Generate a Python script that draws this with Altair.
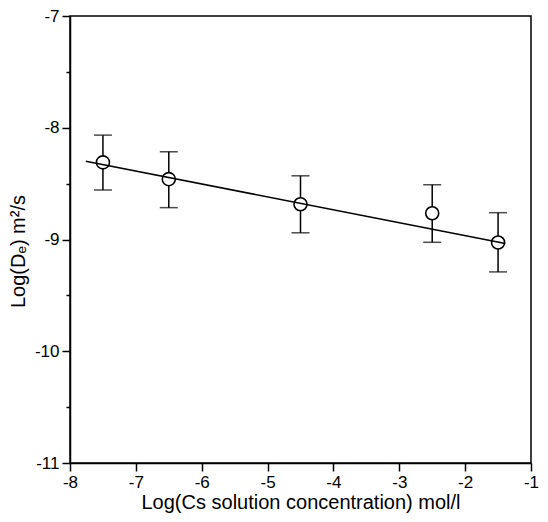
import altair as alt
import pandas as pd

# data
conc = [-7.5, -6.5, -4.5, -2.5, -1.5]
logde = [-8.31, -8.46, -8.685, -8.765, -9.027]
err_hi = [-8.066, -8.215, -8.43, -8.51, -8.76]
err_lo = [-8.557, -8.715, -8.94, -9.025, -9.29]

fit_x = [-7.76, -1.39]
fit_y = [-8.30, -9.035]

x_ticks = [-8, -7.5, -7, -6.5, -6, -5.5, -5, -4.5, -4, -3.5, -3, -2.5, -2, -1.5, -1]
y_ticks = [-11, -10.5, -10, -9.5, -9, -8.5, -8, -7.5, -7]

df = pd.DataFrame({"x": conc, "y": logde, "hi": err_hi, "lo": err_lo})
fit = pd.DataFrame({"x": fit_x, "y": fit_y})

FONT = "Liberation Sans"
major_size = {"condition": {"test": "datum.value % 1 === 0", "value": 8}, "value": 4}
label_expr = "datum.value % 1 === 0 ? '' + datum.value : ''"

xscale = alt.Scale(domain=[-8, -1], nice=False, zero=False)
yscale = alt.Scale(domain=[-11, -7], nice=False, zero=False)

xaxis = alt.Axis(values=x_ticks, tickSize=major_size, labelExpr=label_expr,
                 title="Log(Cs solution concentration) mol/l", grid=False,
                 labelFlush=False, labelOverlap=False, labelPadding=3, titlePadding=2)
yaxis = alt.Axis(values=y_ticks, tickSize=major_size, labelExpr=label_expr,
                 title="Log(Dₑ) m²/s", grid=False, titleY=235,
                 labelFlush=False, labelOverlap=False, labelPadding=3, titlePadding=6)

base = alt.Chart(df)

bars = base.mark_rule(color="black", strokeWidth=1.5).encode(
    x=alt.X("x:Q", scale=xscale, axis=xaxis),
    y=alt.Y("lo:Q", scale=yscale, axis=yaxis),
    y2="hi:Q",
)
cap_hi = base.mark_tick(color="black", orient="horizontal", size=18, thickness=1.5).encode(
    x=alt.X("x:Q", scale=xscale), y=alt.Y("hi:Q", scale=yscale)
)
cap_lo = base.mark_tick(color="black", orient="horizontal", size=18, thickness=1.5).encode(
    x=alt.X("x:Q", scale=xscale), y=alt.Y("lo:Q", scale=yscale)
)
pts = base.mark_point(shape="circle", size=170, filled=False, fill="white",
                      fillOpacity=1, stroke="black", strokeWidth=1.6, opacity=1).encode(
    x=alt.X("x:Q", scale=xscale), y=alt.Y("y:Q", scale=yscale)
)
line = alt.Chart(fit).mark_line(color="black", strokeWidth=1.6).encode(
    x=alt.X("x:Q", scale=xscale), y=alt.Y("y:Q", scale=yscale)
)

chart = alt.layer(bars, cap_hi, cap_lo, pts, line).properties(
    width=461, height=447,
    autosize=alt.AutoSizeParams(type="none"),
    padding={"left": 62, "top": 8, "right": 9, "bottom": 51},
    background="white",
).configure_view(
    stroke="black", strokeWidth=1.5
).configure_axis(
    domainColor="black", domainWidth=1.5, tickColor="black", tickWidth=1.5,
    labelColor="black", titleColor="black", labelFont=FONT, titleFont=FONT,
    labelFontSize=17, titleFontSize=20, titleFontWeight="normal",
)

chart.save("out.html", embed_options={"renderer": "svg", "actions": False})
